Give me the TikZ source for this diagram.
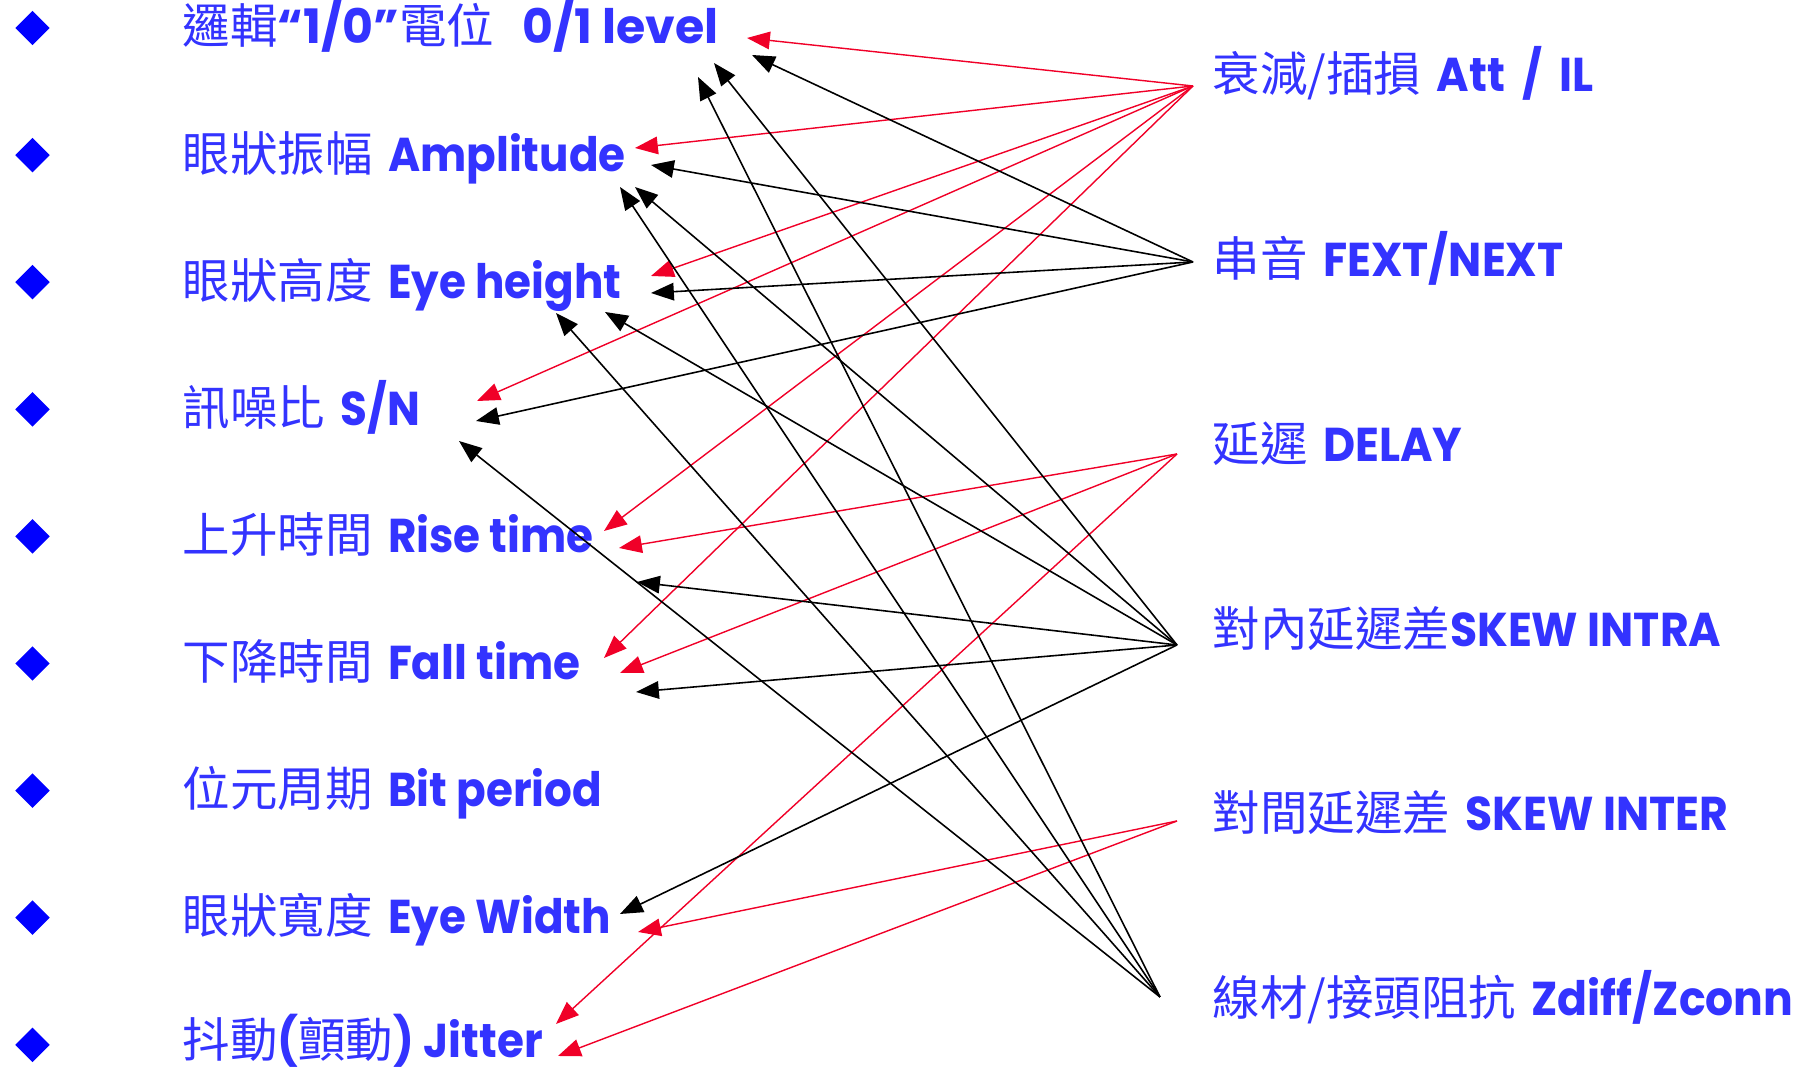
\documentclass[tikz,border=0pt]{standalone}
\usepackage{fontspec}
\usetikzlibrary{arrows.meta,shapes.geometric}
\newfontfamily\cjkf{Noto Sans CJK TC}
\newfontfamily\latf{Poppins}
\newfontfamily\latsf{Poppins}[FakeStretch=0.92]
\newfontfamily\latcf{Poppins}[FakeStretch=0.93]
\newcommand\zhtxt[1]{{\cjkf #1}}
\newcommand\entxt[1]{{\latsf\bfseries #1}}
\newcommand\enwide[1]{{\latf\bfseries #1}}
\newcommand\encond[1]{{\latcf\bfseries #1}}
\definecolor{txtblue}{RGB}{51,51,255}
\definecolor{bulletblue}{RGB}{0,0,255}
\definecolor{arrred}{RGB}{240,0,40}
\begin{document}
\begin{tikzpicture}[x=0.01cm,y=-0.01cm,
  item/.style={anchor=base west, inner sep=0pt, text=txtblue, font=\fontsize{13.5}{16}\selectfont},
  bulletshape/.style={diamond, fill=bulletblue, inner sep=0pt, minimum width=0.35cm, minimum height=0.35cm},
  redarr/.style={draw=arrred, line width=0.4pt, -{Triangle[length=6.5pt,width=5pt]}},
  blkarr/.style={draw=black, line width=0.45pt, -{Triangle[length=6.5pt,width=5pt]}}]
\useasboundingbox (0,0) rectangle (1811,1071);

% bullets
\foreach \i in {0,...,8} {
  \node[bulletshape] (d\i) at (32.5, 28+127.1*\i) {};
}

% left items
\node[item] (l1) at (182,44) {\zhtxt{邏輯}\enwide{“1/0”}\zhtxt{電位}\enwide{\ \ \,0/1 level}};
\node[item] (l2) at (182,171.1) {\zhtxt{眼狀振幅} \entxt{Amplitude}};
\node[item] (l3) at (182,298.2) {\zhtxt{眼狀高度} \entxt{Eye height}};
\node[item] (l4) at (182,425.3) {\zhtxt{訊噪比} \entxt{S/N}};
\node[item] (l5) at (182,552.4) {\zhtxt{上升時間} \entxt{Rise time}};
\node[item] (l6) at (182,679.5) {\zhtxt{下降時間} \entxt{Fall time}};
\node[item] (l7) at (182,806.6) {\zhtxt{位元周期} \entxt{Bit period}};
\node[item] (l8) at (182,933.7) {\zhtxt{眼狀寬度} \entxt{Eye Width}};
\node[item] (l9) at (182,1058) {\zhtxt{抖動}\entxt{(}\zhtxt{顫動}\entxt{) Jitter}};

% right items
\node[item] (r1) at (1212,92) {\zhtxt{衰減/插損} \encond{Att \,/\, IL}};
\node[item] (r2) at (1212,276.7) {\zhtxt{串音} \encond{FEXT/NEXT}};
\node[item] (r3) at (1212,461.4) {\zhtxt{延遲} \encond{DELAY}};
\node[item] (r4) at (1212,646.1) {\zhtxt{對內延遲差}\encond{SKEW INTRA}};
\node[item] (r5) at (1212,830.8) {\zhtxt{對間延遲差} \encond{SKEW INTER}};
\node[item] (r6) at (1212,1015.5) {\zhtxt{線材/接頭阻抗} \encond{Zdiff/Zconn}};

% sources
\coordinate (sAtt) at (1193,86);
\coordinate (sFext) at (1193,262);
\coordinate (sDelay) at (1177,454);
\coordinate (sIntra) at (1177,645);
\coordinate (sInter) at (1177,821);
\coordinate (sZdiff) at (1160,997);

% tips
\coordinate (t1a) at (747,38);
\coordinate (t1b) at (752,55);
\coordinate (t1c) at (714,63);
\coordinate (t1d) at (698,77);
\coordinate (t2a) at (635,148);
\coordinate (t2b) at (651,165);
\coordinate (t2c) at (620,187);
\coordinate (t2d) at (635,187);
\coordinate (t3a) at (651,276);
\coordinate (t3b) at (651,293);
\coordinate (t3c) at (605,312);
\coordinate (t3d) at (556,313);
\coordinate (t4a) at (477,401);
\coordinate (t4b) at (476,421);
\coordinate (t4c) at (459,441);
\coordinate (t5a) at (604,531);
\coordinate (t5b) at (619,548);
\coordinate (t5c) at (637,582);
\coordinate (t6a) at (604,658);
\coordinate (t6b) at (620,673);
\coordinate (t6c) at (636,692);
\coordinate (t8a) at (620,914);
\coordinate (t8b) at (638,932);
\coordinate (t9a) at (556,1024);
\coordinate (t9b) at (558,1056);

% Att / IL (red)
\draw[redarr] (sAtt) -- (t1a);
\draw[redarr] (sAtt) -- (t2a);
\draw[redarr] (sAtt) -- (t3a);
\draw[redarr] (sAtt) -- (t4a);
\draw[redarr] (sAtt) -- (t5a);
\draw[redarr] (sAtt) -- (t6a);
% FEXT/NEXT (black)
\draw[blkarr] (sFext) -- (t1b);
\draw[blkarr] (sFext) -- (t2b);
\draw[blkarr] (sFext) -- (t3b);
\draw[blkarr] (sFext) -- (t4b);
% DELAY (red)
\draw[redarr] (sDelay) -- (t5b);
\draw[redarr] (sDelay) -- (t6b);
\draw[redarr] (sDelay) -- (t9a);
% SKEW INTRA (black)
\draw[blkarr] (sIntra) -- (t1c);
\draw[blkarr] (sIntra) -- (t2d);
\draw[blkarr] (sIntra) -- (t3c);
\draw[blkarr] (sIntra) -- (t5c);
\draw[blkarr] (sIntra) -- (t6c);
\draw[blkarr] (sIntra) -- (t8a);
% SKEW INTER (red)
\draw[redarr] (sInter) -- (t8b);
\draw[redarr] (sInter) -- (t9b);
% Zdiff/Zconn (black)
\draw[blkarr] (sZdiff) -- (t1d);
\draw[blkarr] (sZdiff) -- (t2c);
\draw[blkarr] (sZdiff) -- (t3d);
\draw[blkarr] (sZdiff) -- (t4c);
\end{tikzpicture}
\end{document}
